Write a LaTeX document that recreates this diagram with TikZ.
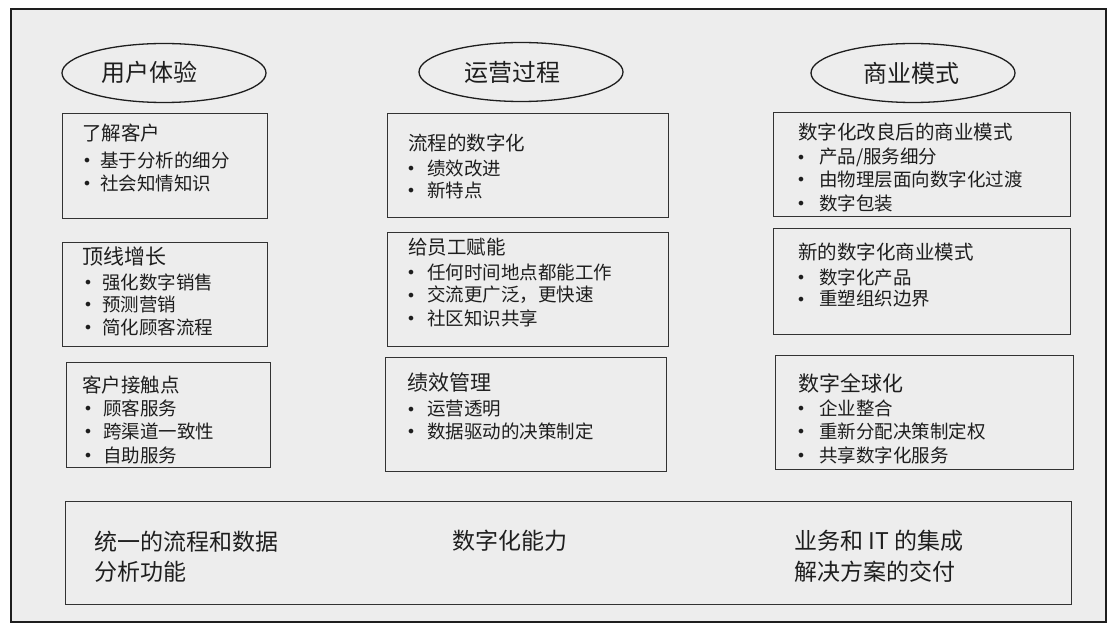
\documentclass[tikz,border=0pt]{standalone}
\usepackage{fontspec}
\setmainfont{Noto Sans CJK SC}
\newfontfamily\bulfont{DejaVu Sans}
\usetikzlibrary{shapes.geometric}
\definecolor{bg}{HTML}{EDEDED}
\definecolor{ink}{HTML}{1E1E1E}
\definecolor{edge}{HTML}{333333}
\begin{document}
\begin{tikzpicture}[x=1pt,y=-1pt,
  frame/.style={draw=ink,line width=2.2pt,fill=bg},
  cbox/.style={rectangle,draw=edge,line width=1.4pt,anchor=north west,inner sep=0},
  head/.style={ellipse,draw=ink,line width=1.3pt,minimum width=204pt,minimum height=59pt,inner sep=0},
  headtxt/.style={inner sep=0,font=\fontsize{24}{26}\selectfont,text=ink},
  ttl/.style={anchor=west,inner sep=0,font=\fontsize{19.5}{20}\selectfont,text=ink},
  bigttl/.style={anchor=west,inner sep=0,font=\fontsize{21}{22}\selectfont,text=ink},
  itm/.style={anchor=west,inner sep=0,font=\fontsize{18.5}{20}\selectfont,text=ink},
  bul/.style={inner sep=0,yshift=-2pt,font=\bulfont\fontsize{16}{16}\selectfont,text=ink},
  foot/.style={anchor=west,inner sep=0,font=\fontsize{23}{24}\selectfont,text=ink}]

\useasboundingbox (0,0) rectangle (1119,631);
\fill[white] (0,0) rectangle (1119,631);
\draw[frame] (11,9) rectangle (1106,622);

% headers
\node[head] (e1) at (164,73) {};
\node[head] (e2) at (521,72) {};
\node[head] (e3) at (913,73) {};
\node[headtxt] (e1t) at (149,72) {用户体验};
\node[headtxt] (e2t) at (512,72) {运营过程};
\node[headtxt] (e3t) at (911,73) {商业模式};

% boxes
\node[cbox,minimum width=205pt,minimum height=105pt] (l1) at (62,113) {};
\node[cbox,minimum width=205pt,minimum height=104pt] (l2) at (62,242) {};
\node[cbox,minimum width=204pt,minimum height=105pt] (l3) at (66,362) {};
\node[cbox,minimum width=281pt,minimum height=104pt] (m1) at (387,113) {};
\node[cbox,minimum width=281pt,minimum height=114pt] (m2) at (387,232) {};
\node[cbox,minimum width=281pt,minimum height=114pt] (m3) at (385,357) {};
\node[cbox,minimum width=297pt,minimum height=104pt] (r1) at (773,112) {};
\node[cbox,minimum width=297pt,minimum height=106pt] (r2) at (773,228) {};
\node[cbox,minimum width=298pt,minimum height=114pt] (r3) at (775,355) {};
\node[cbox,minimum width=1006pt,minimum height=103pt] (bt) at (65,501) {};

% left column
\node[ttl] (l1t) at (82,133) {了解客户};
\foreach \y/\t [count=\i] in {160/{基于分析的细分},183/{社会知情知识}}{
  \node[bul] (l1b\i) at (87,\y) {•};
  \node[itm] (l1i\i) at (100,\y) {\t};
}
\node[bigttl] (l2t) at (82,257) {顶线增长};
\foreach \y/\t [count=\i] in {282/{强化数字销售},304/{预测营销},327/{简化顾客流程}}{
  \node[bul] (l2b\i) at (88,\y) {•};
  \node[itm] (l2i\i) at (102,\y) {\t};
}
\node[ttl] (l3t) at (82,385) {客户接触点};
\foreach \y/\t [count=\i] in {408/{顾客服务},431/{跨渠道一致性},455/{自助服务}}{
  \node[bul] (l3b\i) at (88,\y) {•};
  \node[itm] (l3i\i) at (103,\y) {\t};
}

% middle column
\node[ttl] (m1t) at (408,143) {流程的数字化};
\foreach \y/\t [count=\i] in {168/{绩效改进},190/{新特点}}{
  \node[bul] (m1b\i) at (411,\y) {•};
  \node[itm] (m1i\i) at (427,\y) {\t};
}
\node[ttl] (m2t) at (408,247) {给员工赋能};
\foreach \y/\t [count=\i] in {272/{任何时间地点都能工作},295/{交流更广泛，更快速},318/{社区知识共享}}{
  \node[bul] (m2b\i) at (411,\y) {•};
  \node[itm] (m2i\i) at (427,\y) {\t};
}
\node[bigttl] (m3t) at (407,383) {绩效管理};
\foreach \y/\t [count=\i] in {409/{运营透明},431/{数据驱动的决策制定}}{
  \node[bul] (m3b\i) at (411,\y) {•};
  \node[itm] (m3i\i) at (427,\y) {\t};
}

% right column
\node[ttl] (r1t) at (798,132) {数字化改良后的商业模式};
\foreach \y/\t [count=\i] in {157/{产品/服务细分},179/{由物理层面向数字化过渡},203/{数字包装}}{
  \node[bul] (r1b\i) at (801,\y) {•};
  \node[itm] (r1i\i) at (819,\y) {\t};
}
\node[ttl] (r2t) at (798,252) {新的数字化商业模式};
\foreach \y/\t [count=\i] in {277/{数字化产品},299/{重塑组织边界}}{
  \node[bul] (r2b\i) at (801,\y) {•};
  \node[itm] (r2i\i) at (819,\y) {\t};
}
\node[bigttl] (r3t) at (798,383) {数字全球化};
\foreach \y/\t [count=\i] in {408/{企业整合},431/{重新分配决策制定权},455/{共享数字化服务}}{
  \node[bul] (r3b\i) at (801,\y) {•};
  \node[itm] (r3i\i) at (819,\y) {\t};
}

% bottom
\node[foot] (f1a) at (94,542) {统一的流程和数据};
\node[foot] (f1b) at (94,572) {分析功能};
\node[foot] (f2) at (452,541) {数字化能力};
\node[foot] (f3a) at (794,541) {业务和 IT 的集成};
\node[foot] (f3b) at (794,572) {解决方案的交付};
\end{tikzpicture}
\end{document}
